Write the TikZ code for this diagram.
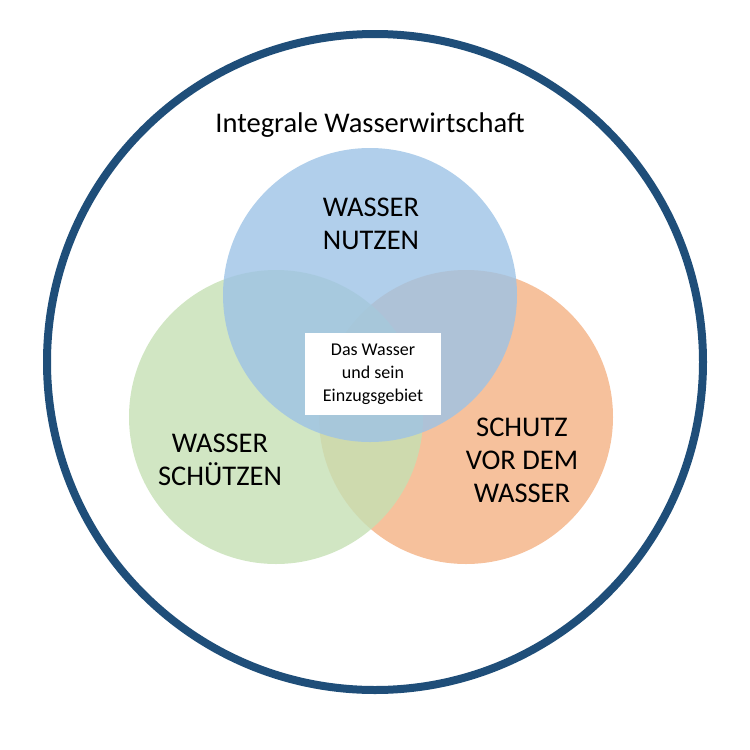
\documentclass[tikz,border=0pt]{standalone}
\usepackage{fontspec}
\setmainfont{Carlito}
\definecolor{ring}{RGB}{31,78,121}
\definecolor{cblue}{RGB}{157,195,230}
\definecolor{cgreen}{RGB}{197,224,180}
\definecolor{corange}{RGB}{244,177,131}
\begin{document}
\begin{tikzpicture}[x=1pt,y=-1pt,
  lbl/.style={font=\fontsize{28.5}{33}\selectfont,align=center},
  venn/.style={circle,minimum size=294pt,inner sep=0pt,fill opacity=0.8}]
\useasboundingbox (0,0) rectangle (750,750);
\node[circle,draw=ring,line width=8pt,minimum size=656pt,inner sep=0pt] (outer) at (375,362) {};
\node[venn,fill=corange] (orange) at (466,417) {};
\node[venn,fill=cgreen] (green) at (276,417) {};
\node[venn,fill=cblue] (blue) at (370,295) {};
\node[fill=white,minimum width=136pt,minimum height=82pt,align=center,font=\fontsize{18}{23}\selectfont] (core) at (373,374) {Das Wasser\\und sein\\Einzugsgebiet};
\node[lbl] (title) at (370,125) {Integrale Wasserwirtschaft};
\node[lbl] (nutzen) at (371,224) {WASSER\\NUTZEN};
\node[lbl] (schuetzen) at (220,460) {WASSER\\SCHÜTZEN};
\node[lbl] (schutz) at (522,460) {SCHUTZ\\VOR DEM\\WASSER};
\end{tikzpicture}
\end{document}
